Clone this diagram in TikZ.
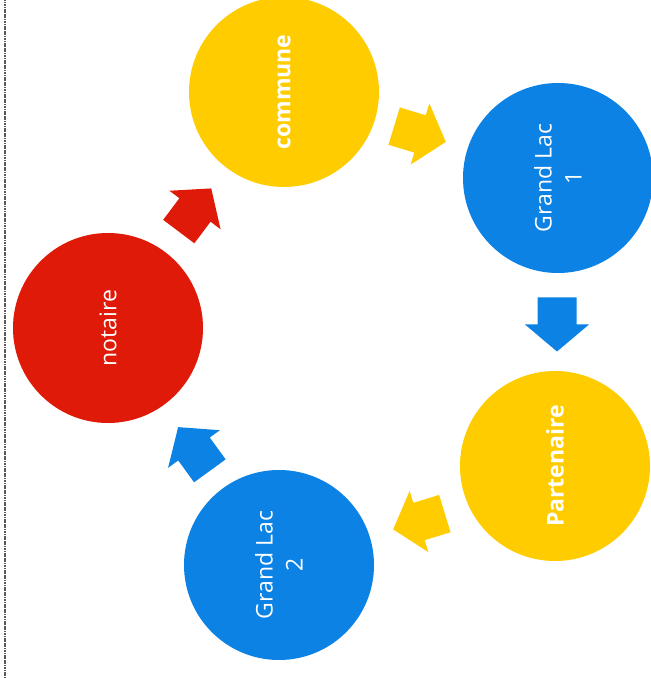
\documentclass[tikz,border=0pt]{standalone}
\usepackage{fontspec}
\setmainfont{Open Sans}
\definecolor{cyel}{RGB}{255,204,0}
\definecolor{cblue}{RGB}{12,130,228}
\definecolor{cred}{RGB}{224,26,8}
\begin{document}
\begin{tikzpicture}[x=1pt,y=1pt,
  disc/.style={circle,minimum size=190pt,inner sep=0pt,text=white,align=center,
    font=\fontsize{23}{30}\selectfont,rotate=90}]
\useasboundingbox (0,0) rectangle (651,678);
\clip (0,0) rectangle (651,678);
\fill[white] (0,0) rectangle (651,678);
\draw[black!65,line width=2.4pt,dash pattern=on 1.2pt off 0.5pt] (5,0) -- (5,678);
\node[disc,fill=cyel,font=\fontsize{23}{30}\selectfont\bfseries] (commune) at (284,586) {commune};
\node[disc,fill=cblue] (gl1) at (558,500) {Grand Lac\\1};
\node[disc,fill=cyel,font=\fontsize{23}{30}\selectfont\bfseries] (part) at (555,212) {Partenaire};
\node[disc,fill=cblue] (gl2) at (279,113) {Grand Lac\\2};
\node[disc,fill=cred] (notaire) at (108,350) {notaire};
\newcommand\cycarrow[4]{%
  \fill[#4, shift={(#1,#2)}, rotate=#3]
    (-27,-19.5) -- (0,-19.5) -- (0,-32) -- (27,0) -- (0,32) -- (0,19.5) -- (-27,19.5) -- cycle;}
\cycarrow{420}{544}{-17}{cyel}
\cycarrow{557}{353.5}{-90}{cblue}
\cycarrow{419}{156.5}{-163}{cyel}
\cycarrow{194}{229}{126}{cblue}
\cycarrow{195}{468}{53}{cred}
\end{tikzpicture}
\end{document}
